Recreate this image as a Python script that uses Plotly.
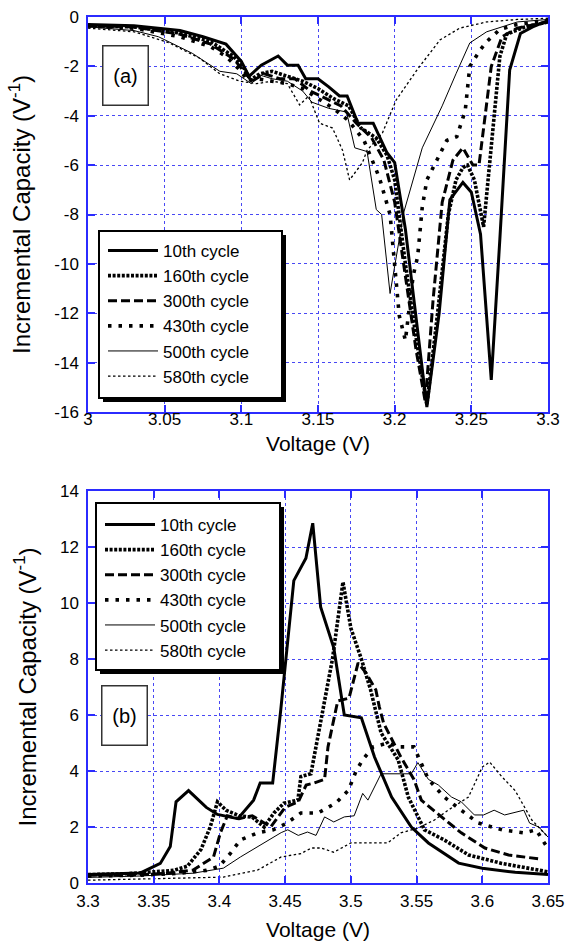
import plotly.graph_objects as go

# ---------------- data ----------------
cycle_names = ["10th cycle", "160th cycle", "300th cycle", "430th cycle", "500th cycle", "580th cycle"]

# (a) discharge side, 3.0 - 3.3 V
va_10 = [3.000, 3.030, 3.060, 3.075, 3.090, 3.100, 3.105, 3.113, 3.124, 3.130, 3.137, 3.142, 3.150, 3.157,
         3.164, 3.169, 3.176, 3.186, 3.195, 3.200, 3.207, 3.214, 3.221, 3.229, 3.236, 3.2445, 3.250, 3.256,
         3.263, 3.2686, 3.275, 3.282, 3.290, 3.300]
ica_10 = [-0.30, -0.35, -0.55, -0.80, -1.10, -1.80, -2.40, -1.95, -1.58, -1.95, -1.95, -2.50, -2.50, -2.83,
          -3.20, -3.20, -4.30, -4.30, -5.50, -5.90, -8.60, -12.2, -15.8, -12.0, -7.4, -6.7, -7.1, -8.8,
          -14.7, -9.0, -2.15, -0.67, -0.40, -0.15]

va_160 = [3.000, 3.030, 3.060, 3.080, 3.095, 3.102, 3.106, 3.112, 3.120, 3.130, 3.140, 3.150, 3.160, 3.170,
          3.178, 3.188, 3.195, 3.200, 3.207, 3.214, 3.221, 3.228, 3.235, 3.240, 3.2445, 3.2475, 3.252, 3.258,
          3.264, 3.2686, 3.273, 3.285, 3.300]
ica_160 = [-0.35, -0.40, -0.65, -1.00, -1.60, -2.10, -2.55, -2.30, -2.20, -2.40, -2.60, -2.90, -3.30, -3.60,
           -4.50, -4.90, -5.60, -6.60, -10.0, -13.0, -15.7, -12.0, -8.0, -6.6, -6.1, -6.0, -6.6, -8.5,
           -4.7, -1.6, -0.70, -0.40, -0.20]

va_300 = [3.000, 3.030, 3.060, 3.080, 3.095, 3.102, 3.107, 3.115, 3.125, 3.135, 3.145, 3.155, 3.165, 3.175,
          3.185, 3.193, 3.200, 3.207, 3.214, 3.220, 3.225, 3.231, 3.238, 3.2445, 3.251, 3.255, 3.258, 3.263,
          3.270, 3.280, 3.300]
ica_300 = [-0.35, -0.40, -0.70, -1.10, -1.70, -2.20, -2.60, -2.30, -2.50, -2.50, -3.00, -3.30, -3.60, -4.30,
           -4.90, -5.80, -7.50, -10.5, -13.5, -15.6, -11.5, -7.5, -5.8, -5.3, -6.0, -6.0, -4.5, -2.0,
           -0.80, -0.45, -0.20]

va_430 = [3.000, 3.030, 3.060, 3.080, 3.090, 3.100, 3.104, 3.110, 3.120, 3.130, 3.140, 3.150, 3.160, 3.170,
          3.180, 3.190, 3.197, 3.203, 3.207, 3.212, 3.215, 3.218, 3.221, 3.2275, 3.234, 3.2405, 3.246, 3.249,
          3.2556, 3.260, 3.2686, 3.280, 3.300]
ica_430 = [-0.35, -0.45, -0.80, -1.20, -1.60, -2.20, -2.60, -2.50, -2.60, -2.70, -2.90, -3.30, -3.70, -4.20,
           -5.00, -6.50, -8.00, -12.1, -13.1, -10.5, -9.7, -7.7, -6.6, -5.8, -5.0, -4.85, -3.8, -2.0,
           -1.35, -1.00, -0.50, -0.30, -0.15]

va_500 = [3.000, 3.030, 3.046, 3.068, 3.086, 3.097, 3.1065, 3.112, 3.120, 3.130, 3.140, 3.146, 3.157, 3.1686,
          3.174, 3.182, 3.188, 3.1915, 3.197, 3.206, 3.218, 3.231, 3.240, 3.249, 3.260, 3.280, 3.300]
ica_500 = [-0.40, -0.55, -0.80, -1.47, -2.20, -2.30, -2.70, -2.35, -2.50, -2.60, -3.00, -3.45, -3.70, -3.85,
           -5.30, -5.45, -7.80, -8.00, -11.2, -7.90, -5.30, -3.60, -2.30, -1.05, -0.60, -0.20, -0.10]

va_580 = [3.000, 3.030, 3.053, 3.0725, 3.086, 3.099, 3.110, 3.120, 3.130, 3.138, 3.144, 3.151, 3.1595, 3.166,
          3.1706, 3.179, 3.182, 3.192, 3.201, 3.2145, 3.2295, 3.2425, 3.260, 3.280, 3.300]
ica_580 = [-0.45, -0.60, -1.05, -1.66, -2.30, -2.60, -2.70, -2.60, -2.70, -3.56, -3.20, -4.30, -4.50, -5.40,
           -6.60, -5.90, -5.40, -4.70, -3.36, -2.15, -0.93, -0.45, -0.20, -0.10, -0.05]

# (b) charge side, 3.3 - 3.65 V
vb_10 = [3.300, 3.320, 3.340, 3.355, 3.3626, 3.367, 3.3765, 3.390, 3.3985, 3.414, 3.426, 3.431, 3.4405, 3.4467,
         3.4566, 3.4658, 3.471, 3.477, 3.487, 3.495, 3.508, 3.518, 3.531, 3.546, 3.559, 3.582, 3.600, 3.625, 3.650]
icb_10 = [0.30, 0.32, 0.36, 0.70, 1.30, 2.90, 3.30, 2.70, 2.45, 2.30, 2.96, 3.57, 3.57, 6.20,
          10.8, 11.6, 12.85, 9.86, 8.40, 6.00, 5.90, 4.50, 3.07, 2.00, 1.43, 0.71, 0.53, 0.38, 0.30]

vb_160 = [3.300, 3.330, 3.350, 3.365, 3.3756, 3.386, 3.393, 3.3985, 3.405, 3.415, 3.425, 3.434, 3.4415, 3.449,
          3.4597, 3.462, 3.4696, 3.477, 3.486, 3.494, 3.500, 3.508, 3.515, 3.523, 3.536, 3.5437, 3.556, 3.571,
          3.5896, 3.6148, 3.650]
icb_160 = [0.30, 0.33, 0.40, 0.45, 0.60, 1.20, 2.00, 2.90, 2.60, 2.40, 2.35, 2.00, 2.50, 2.85,
           2.96, 3.80, 3.90, 5.70, 8.00, 10.75, 9.10, 8.00, 6.90, 5.36, 4.40, 3.07, 1.90, 1.54,
           1.00, 0.70, 0.40]

vb_300 = [3.300, 3.340, 3.360, 3.380, 3.3955, 3.4008, 3.406, 3.415, 3.425, 3.439, 3.450, 3.460, 3.466, 3.472,
          3.480, 3.4826, 3.490, 3.4986, 3.5055, 3.5116, 3.519, 3.5216, 3.525, 3.538, 3.548, 3.5536, 3.569, 3.584,
          3.602, 3.620, 3.645]
icb_300 = [0.28, 0.30, 0.35, 0.46, 0.93, 1.80, 2.40, 2.30, 2.40, 2.00, 2.70, 2.90, 3.50, 3.57,
           3.70, 4.86, 6.50, 6.60, 7.86, 7.50, 6.90, 6.30, 5.70, 4.50, 3.70, 2.96, 2.36, 1.79,
           1.25, 1.00, 0.85]

vb_430 = [3.300, 3.340, 3.370, 3.390, 3.400, 3.4085, 3.416, 3.429, 3.441, 3.450, 3.462, 3.475, 3.4887, 3.498,
          3.504, 3.509, 3.517, 3.528, 3.536, 3.548, 3.559, 3.571, 3.584, 3.597, 3.615, 3.632, 3.641, 3.649]
icb_430 = [0.25, 0.28, 0.35, 0.45, 0.60, 1.07, 1.54, 1.79, 1.90, 2.10, 2.50, 2.50, 2.86, 3.30,
           4.00, 4.40, 4.86, 5.00, 4.86, 4.86, 3.70, 3.07, 2.60, 2.14, 1.90, 1.79, 1.90, 1.30]

vb_500 = [3.300, 3.340, 3.380, 3.403, 3.416, 3.434, 3.447, 3.452, 3.460, 3.467, 3.4735, 3.480, 3.487, 3.495,
          3.5025, 3.509, 3.513, 3.523, 3.546, 3.551, 3.559, 3.5666, 3.5766, 3.584, 3.594, 3.601, 3.609, 3.617,
          3.6316, 3.636, 3.643, 3.650]
icb_500 = [0.20, 0.25, 0.35, 0.53, 0.93, 1.43, 1.80, 1.90, 1.70, 1.82, 1.70, 2.36, 2.18, 2.36,
           2.40, 3.20, 2.96, 3.90, 3.90, 4.30, 3.70, 3.50, 3.07, 2.90, 2.43, 2.43, 2.60, 2.43,
           2.60, 2.14, 2.00, 1.64]

vb_580 = [3.300, 3.350, 3.403, 3.429, 3.447, 3.462, 3.470, 3.477, 3.487, 3.500, 3.528, 3.538, 3.551, 3.5636,
          3.574, 3.5895, 3.600, 3.6056, 3.6148, 3.625, 3.6377, 3.650]
icb_580 = [0.10, 0.15, 0.21, 0.46, 0.93, 1.05, 1.25, 1.25, 1.10, 1.43, 1.43, 1.79, 1.96, 2.25,
           2.60, 3.07, 4.14, 4.32, 3.80, 3.30, 2.25, 1.64]

xa_ticks = [3.0, 3.05, 3.1, 3.15, 3.2, 3.25, 3.3]
xa_labels = ["3", "3.05", "3.1", "3.15", "3.2", "3.25", "3.3"]
ya_ticks = [0, -2, -4, -6, -8, -10, -12, -14, -16]
ya_labels = ["0", "-2", "-4", "-6", "-8", "-10", "-12", "-14", "-16"]
xb_ticks = [3.3, 3.35, 3.4, 3.45, 3.5, 3.55, 3.6, 3.65]
xb_labels = ["3.3", "3.35", "3.4", "3.45", "3.5", "3.55", "3.6", "3.65"]
yb_ticks = [0, 2, 4, 6, 8, 10, 12, 14]

# ---------------- styling ----------------
W, H = 575, 941
L, R, T, B = 88, 27, 17, 58
PW, PH = W - L - R, H - T - B

def px_x(px):
    return (px - L) / PW

def px_y(py):
    return (H - B - py) / PH

FONT = "Liberation Sans, Arial, sans-serif"
AXIS_BLUE = "#2b2bff"
GRID_BLUE = "#4848f4"

line_styles = [
    dict(color="black", width=3.0, dash="solid"),
    dict(color="black", width=3.6, dash="3px,1.6px"),
    dict(color="black", width=3.0, dash="9px,4px"),
    dict(color="black", width=3.6, dash="3.5px,7px"),
    dict(color="black", width=1.0, dash="solid"),
    dict(color="black", width=1.3, dash="2.5px,2.5px"),
]

panel_a = list(zip([va_10, va_160, va_300, va_430, va_500, va_580],
                   [ica_10, ica_160, ica_300, ica_430, ica_500, ica_580]))
panel_b = list(zip([vb_10, vb_160, vb_300, vb_430, vb_500, vb_580],
                   [icb_10, icb_160, icb_300, icb_430, icb_500, icb_580]))

fig = go.Figure()
for name, style, (vx, vy) in zip(cycle_names, line_styles, panel_a):
    fig.add_trace(go.Scatter(x=vx, y=vy, mode="lines", name=name, line=style,
                             xaxis="x", yaxis="y", legend="legend"))
for name, style, (vx, vy) in zip(cycle_names, line_styles, panel_b):
    fig.add_trace(go.Scatter(x=vx, y=vy, mode="lines", name=name, line=style,
                             xaxis="x2", yaxis="y2", legend="legend2"))

axis_common = dict(
    showline=True, linecolor=AXIS_BLUE, linewidth=1.5, mirror="ticks",
    ticks="inside", ticklen=7, tickwidth=1.5, tickcolor=AXIS_BLUE,
    showgrid=True, gridcolor=GRID_BLUE, gridwidth=1.3, griddash="dot",
    zeroline=False, automargin=False,
    tickfont=dict(family=FONT, size=17, color="black"),
    title_font=dict(family=FONT, size=21, color="black"),
)
ytitle_font = dict(family=FONT, size=24, color="black")

ya_dom = [px_y(412), 1.0]
yb_dom = [0.0, px_y(491)]

legend_common = dict(xanchor="left", yanchor="top", bgcolor="rgba(0,0,0,0)",
                     borderwidth=0, itemwidth=50,
                     font=dict(family=FONT, size=17, color="black"), traceorder="normal")

fig.update_layout(
    width=W, height=H,
    margin=dict(l=L, r=R, t=T, b=B, autoexpand=False),
    paper_bgcolor="white", plot_bgcolor="white",
    font=dict(family=FONT, size=17, color="black"),
    xaxis=dict(axis_common, domain=[0, 1], anchor="y", range=[3.0, 3.3],
               tickvals=xa_ticks, ticktext=xa_labels, ticklabelstandoff=-9,
               title=dict(text="Voltage (V)", standoff=8)),
    yaxis=dict(axis_common, domain=ya_dom, anchor="x", range=[-16, 0],
               tickvals=ya_ticks, ticktext=ya_labels, ticklabelstandoff=4,
               title=dict(text="Incremental Capacity (V<sup>-1</sup>)", standoff=17,
                          font=ytitle_font)),
    xaxis2=dict(axis_common, domain=[0, 1], anchor="y2", range=[3.3, 3.65],
                tickvals=xb_ticks, ticktext=xb_labels, ticklabelstandoff=2,
                title=dict(text="Voltage (V)", standoff=20)),
    yaxis2=dict(axis_common, domain=yb_dom, anchor="x2", range=[0, 14],
                tickvals=yb_ticks, ticklabelstandoff=4,
                title=dict(text="Incremental Capacity (V<sup>-1</sup>)", standoff=17,
                           font=ytitle_font)),
    legend=dict(legend_common, x=px_x(103), y=px_y(233)),
    legend2=dict(legend_common, x=px_x(100), y=px_y(507)),
    showlegend=True,
)

# framed legend boxes with a drop shadow
for (x0, y0, x1, y1) in [(99, 231, 282, 398), (96, 503, 280, 670)]:
    fig.add_shape(type="rect", xref="paper", yref="paper",
                  x0=px_x(x0 + 4), x1=px_x(x1 + 4), y0=px_y(y1 + 4), y1=px_y(y0 + 4),
                  fillcolor="black", line=dict(width=0), layer="above")
    fig.add_shape(type="rect", xref="paper", yref="paper",
                  x0=px_x(x0), x1=px_x(x1), y0=px_y(y1), y1=px_y(y0),
                  fillcolor="white", line=dict(color="black", width=2), layer="above")

# panel labels in framed boxes
for label, cx, cy in [("(a)", 125, 75), ("(b)", 124.5, 715)]:
    fig.add_annotation(text=label, xref="paper", yref="paper", x=px_x(cx), y=px_y(cy),
                       xanchor="center", yanchor="middle", showarrow=False,
                       font=dict(family=FONT, size=20, color="black"),
                       bgcolor="white", bordercolor="#333333", borderwidth=1.5,
                       width=44, height=58, borderpad=0)

fig.write_html("out.html")
